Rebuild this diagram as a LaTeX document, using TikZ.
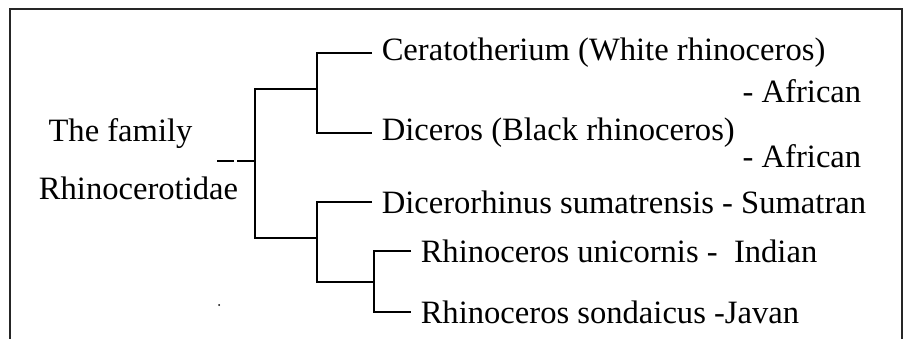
\documentclass[tikz,border=0pt]{standalone}
\usepackage{fontspec}
\setmainfont{Liberation Serif}
\usetikzlibrary{positioning, math}

\begin{document}
\begin{tikzpicture}[x=1pt,y=-1pt,line width=1.5pt,
  every node/.style={font=\fontsize{32.6}{38}\selectfont},
  taxon/.style={anchor=west,inner xsep=9pt,inner ysep=0pt},
  region/.style={anchor=east,inner sep=0pt}]
\tikzmath{
\xa=255; \xb=317; \xc=374; \xl=372; \xr=411;
}
\useasboundingbox (0,0) rectangle (908,339);
\clip (0,0) rectangle (908,339);
\draw[line width=2pt,color=black!85] (10,9) rectangle (902,360);

% family
\node (fam) at (120.5,134) {The family};
\node (rhi) at (138.5,188) {Rhinocerotidae};

% taxa
\node[taxon] (cer) at (\xl,53) {Ceratotherium (White rhinoceros)};
\node[taxon] (dic) at (\xl,133) {Diceros (Black rhinoceros)};
\node[taxon] (sum) at (\xl,202) {Dicerorhinus sumatrensis - Sumatran};
\node[taxon] (uni) at (\xr,251) {Rhinoceros unicornis -\ \ Indian};
\node[taxon] (son) at (\xr,312) {Rhinoceros sondaicus -Javan};
\node[region] (afr1) at (862,91) {- African};
\node[region] (afr2) at (862,156) {- African};

% branches
\coordinate (stub) at (217,161);
\coordinate (root) at (\xa,161);
\coordinate (up) at (\xb,89);
\coordinate (lo) at (\xb,238);
\coordinate (rh) at (\xc,282);

\draw[dash pattern=on 17pt off 3pt] (stub) -- (root);
\draw (up) -| (root) |- (lo);
\draw (cer.west) -| (up) |- (dic.west);
\draw (sum.west) -| (lo) |- (rh);
\draw (uni.west) -| (rh) |- (son.west);

\fill (219,305) circle (1);
\end{tikzpicture}
\end{document}
